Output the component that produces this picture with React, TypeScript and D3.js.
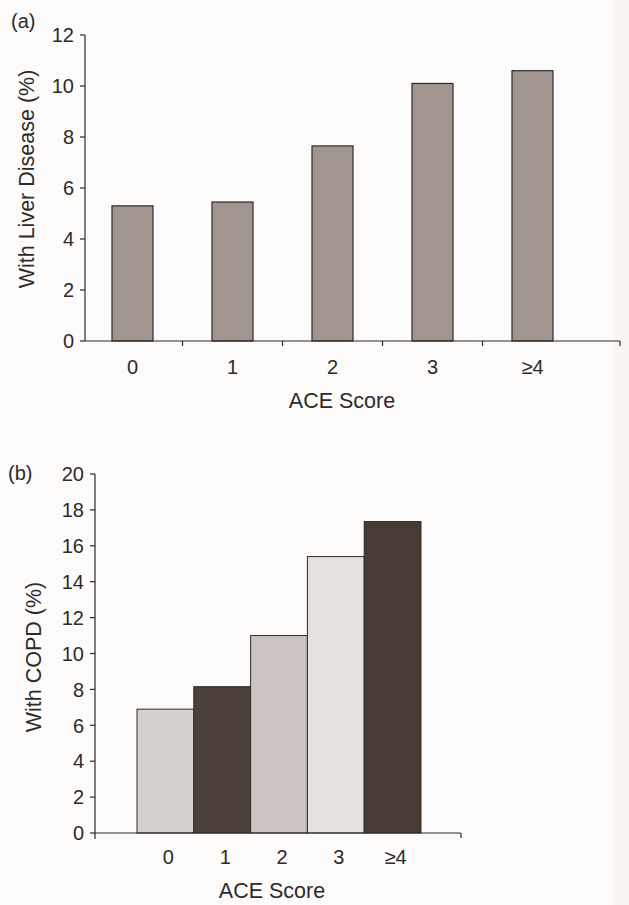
import React from "react";
import * as d3 from "d3";

const categories = ["0", "1", "2", "3", "≥4"];
const liverValues = [5.3, 5.45, 7.65, 10.1, 10.6];
const copdValues = [6.9, 8.15, 11.0, 15.4, 17.35];
const liverTicks = [0, 2, 4, 6, 8, 10, 12];
const copdTicks = [0, 2, 4, 6, 8, 10, 12, 14, 16, 18, 20];
const copdColors = ["#d6d0cc", "#4b403a", "#cbc3bf", "#e6e1de", "#463b35"];
const liverColor = "#a0958f";

const FONT = "'Liberation Sans', Arial, Helvetica, sans-serif";
const INK = "#2e2a28";
const TICK_FS = 20;
const TITLE_FS = 21.5;

function PanelA() {
  const x0 = 85, xEnd = 620;
  const y = d3.scaleLinear().domain([0, 12]).range([341, 35]);
  const x = d3.scaleBand().domain(categories).range([82.5, 582.5]).paddingInner(0.59).paddingOuter(0.295);
  const bounds = categories.slice(1).map((c) => (x(c) as number) - (x.step() - x.bandwidth()) / 2);
  return (
    <g>
      <text x={11} y={28} fontSize={20} fill={INK}>(a)</text>
      {categories.map((c, i) => (
        <rect key={c} x={x(c)} y={y(liverValues[i])} width={x.bandwidth()} height={y(0) - y(liverValues[i])}
          fill={liverColor} stroke={INK} strokeWidth={1.2} />
      ))}
      <line x1={x0} x2={x0} y1={y(12)} y2={y(0)} stroke={INK} strokeWidth={1.2} />
      <line x1={x0} x2={xEnd} y1={y(0)} y2={y(0)} stroke={INK} strokeWidth={1.2} />
      <line x1={xEnd} x2={xEnd} y1={y(0)} y2={y(0) + 5} stroke={INK} strokeWidth={1.2} />
      {bounds.map((b, i) => (
        <line key={i} x1={b} x2={b} y1={y(0)} y2={y(0) + 5} stroke={INK} strokeWidth={1.2} />
      ))}
      {liverTicks.map((t) => (
        <g key={t}>
          <line x1={x0 - 5} x2={x0} y1={y(t)} y2={y(t)} stroke={INK} strokeWidth={1.2} />
          <text x={x0 - 11} y={y(t)} dy="0.36em" textAnchor="end" fontSize={TICK_FS} fill={INK}>{t}</text>
        </g>
      ))}
      {categories.map((c) => (
        <text key={c} x={(x(c) as number) + x.bandwidth() / 2} y={374} textAnchor="middle" fontSize={TICK_FS} fill={INK}>{c}</text>
      ))}
      <text x={342} y={408} textAnchor="middle" fontSize={TITLE_FS} fill={INK}>ACE Score</text>
      <text transform={`translate(34,${y(6) - 9}) rotate(-90)`} textAnchor="middle" fontSize={TITLE_FS} fill={INK}>With Liver Disease (%)</text>
    </g>
  );
}

function PanelB() {
  const x0 = 95, xEnd = 461;
  const y = d3.scaleLinear().domain([0, 20]).range([833, 474]);
  const x = d3.scaleBand().domain(categories).range([137, 421]).padding(0);
  return (
    <g>
      <text x={8} y={480} fontSize={20} fill={INK}>(b)</text>
      {categories.map((c, i) => (
        <rect key={c} x={x(c)} y={y(copdValues[i])} width={x.bandwidth()} height={y(0) - y(copdValues[i])}
          fill={copdColors[i]} stroke={INK} strokeWidth={1} />
      ))}
      <line x1={x0} x2={x0} y1={y(20)} y2={y(0) + 6} stroke={INK} strokeWidth={1.2} />
      <line x1={x0} x2={xEnd} y1={y(0)} y2={y(0)} stroke={INK} strokeWidth={1.2} />
      <line x1={xEnd} x2={xEnd} y1={y(0)} y2={y(0) + 5} stroke={INK} strokeWidth={1.2} />
      {copdTicks.map((t) => (
        <g key={t}>
          <line x1={x0 - 5} x2={x0} y1={y(t)} y2={y(t)} stroke={INK} strokeWidth={1.2} />
          <text x={x0 - 11} y={y(t)} dy="0.36em" textAnchor="end" fontSize={TICK_FS} fill={INK}>{t}</text>
        </g>
      ))}
      {categories.map((c) => (
        <text key={c} x={(x(c) as number) + x.bandwidth() / 2 + 3} y={864} textAnchor="middle" fontSize={TICK_FS} fill={INK}>{c}</text>
      ))}
      <text x={272} y={898} textAnchor="middle" fontSize={TITLE_FS} fill={INK}>ACE Score</text>
      <text transform={`translate(41,657) rotate(-90)`} textAnchor="middle" fontSize={TITLE_FS} fill={INK}>With COPD (%)</text>
    </g>
  );
}

export default function App() {
  return (
    <svg width={629} height={905} style={{ position: "absolute", left: 0, top: 0, fontFamily: FONT }}>
      <rect x={0} y={0} width={629} height={905} fill="#fcfbfa" />
      <rect x={615} y={0} width={14} height={905} fill="#f8f4ef" />
      <PanelA />
      <PanelB />
    </svg>
  );
}
